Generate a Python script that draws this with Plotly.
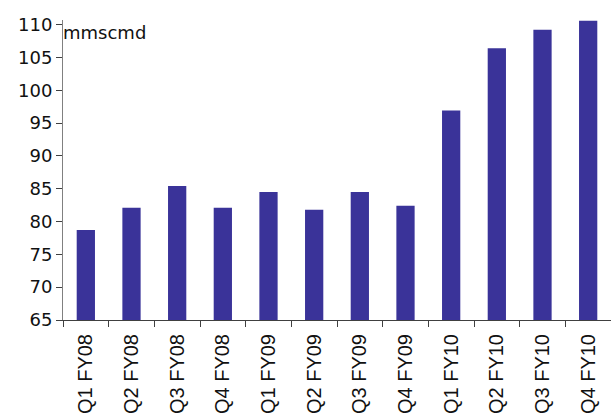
import plotly.graph_objects as go

categories = ["Q1 FY08", "Q2 FY08", "Q3 FY08", "Q4 FY08",
              "Q1 FY09", "Q2 FY09", "Q3 FY09", "Q4 FY09",
              "Q1 FY10", "Q2 FY10", "Q3 FY10", "Q4 FY10"]
values = [78.7, 82.1, 85.4, 82.1, 84.5, 81.8, 84.5, 82.4, 96.9, 106.4, 109.2, 110.6]
y_ticks = [65, 70, 75, 80, 85, 90, 95, 100, 105, 110]
unit_label = "mmscmd"

fig = go.Figure(go.Bar(x=categories, y=values, marker_color="#3a3399",
                       marker_line_width=0, width=0.4))

arial = "Liberation Sans, Arial, sans-serif"
wide = "DejaVu Sans, sans-serif"
fig.update_layout(
    width=611, height=419,
    margin=dict(l=63, r=0, t=20, b=99),
    paper_bgcolor="white", plot_bgcolor="white",
    showlegend=False,
    font=dict(family=arial, size=18, color="black"),
)
fig.update_yaxes(range=[65, 110.7], tickvals=y_ticks, showgrid=False, zeroline=False,
                 showline=True, linecolor="#808080", linewidth=1,
                 ticks="outside", ticklen=6, tickcolor="#404040", automargin=False,
                 tickfont=dict(size=18, family=wide, color="#111111"))
fig.update_xaxes(showgrid=False, showline=True, linecolor="#404040", linewidth=1,
                 ticks="outside", ticklen=6, tickcolor="#404040", tickson="boundaries",
                 tickangle=-90, automargin=False, ticklabelstandoff=5,
                 tickfont=dict(size=20, family=arial, color="#111111"),
                 range=[-0.5, 11.5])
fig.add_annotation(text=unit_label, xref="paper", yref="paper", x=0, y=1.0,
                   xanchor="left", yanchor="top", showarrow=False, xshift=-2, yshift=0,
                   font=dict(size=18, family=wide, color="#111111"))

fig.write_html("out.html")
